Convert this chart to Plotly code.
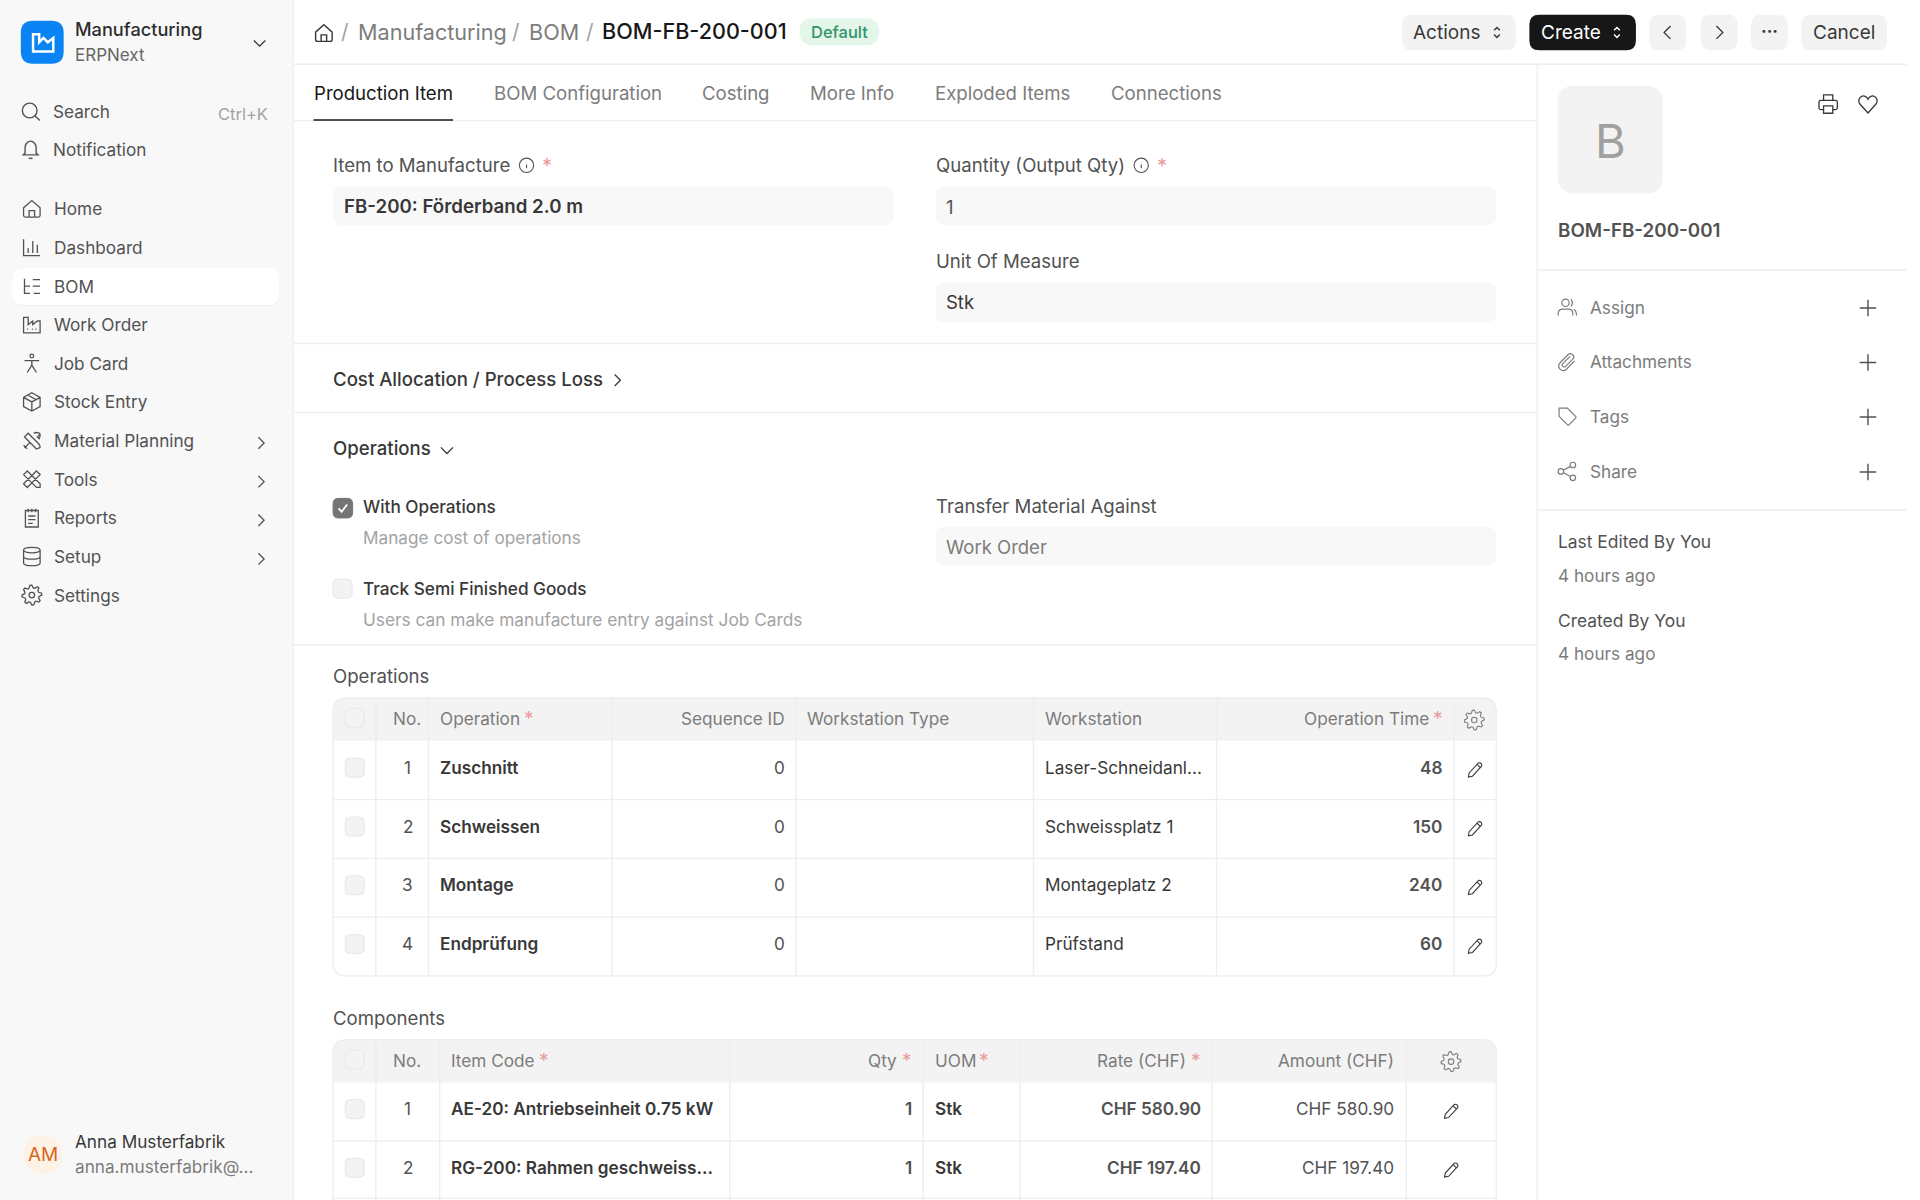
import math
import re
import plotly.graph_objects as go

# sidebar
nav_items = ["Home", "Dashboard", "BOM", "Work Order", "Job Card", "Stock Entry",
             "Material Planning", "Tools", "Reports", "Setup", "Settings"]
nav_arrows = ["Material Planning", "Tools", "Reports", "Setup"]
crumbs = ["Manufacturing", "BOM"]
doc_name = "BOM-FB-200-001"
tabs = ["Production Item", "BOM Configuration", "Costing", "More Info", "Exploded Items", "Connections"]

# operations table
op_no = [1, 2, 3, 4]
op_name = ["Zuschnitt", "Schweissen", "Montage", "Endprüfung"]
op_seq = [0, 0, 0, 0]
op_station = ["Laser-Schneidanl...", "Schweissplatz 1", "Montageplatz 2", "Prüfstand"]
op_time = [48, 150, 240, 60]

# components table
comp_no = [1, 2]
comp_item = ["AE-20: Antriebseinheit 0.75 kW", "RG-200: Rahmen geschweiss..."]
comp_qty = [1, 1]
comp_uom = ["Stk", "Stk"]
comp_rate = ["CHF 580.90", "CHF 197.40"]
comp_amount = ["CHF 580.90", "CHF 197.40"]

side_actions = ["Assign", "Attachments", "Tags", "Share"]

# colours
INK = "#171717"
DARK = "#383838"
MID = "#525252"
GREY = "#7c7c7c"
SOFT = "#a3a3a3"
LINE = "#eeeeee"
FIELD = "#f8f8f8"
HEAD = "#f3f3f3"
RED = "#e99a9a"
FONT = "Inter"
BASE = 17.2

shapes = []
notes = []


def txt(x, y, s, size=BASE, color=DARK, weight=400, anchor="left"):
    # annotations keep a 1px border box, pull the text back over it
    nudge = {"left": -0.5, "right": 0.6, "center": 0}[anchor]
    notes.append(dict(x=x + nudge, y=y, xref="x", yref="y", text=str(s), showarrow=False,
                      xanchor=anchor, yanchor="middle", borderpad=0,
                      font=dict(family=FONT, size=size, color=color, weight=weight)))


def path(d, fill=None, color=None, w=1.2):
    shapes.append(dict(type="path", path=d, xref="x", yref="y", layer="above",
                       fillcolor=fill or "rgba(0,0,0,0)",
                       line=dict(color=color or "rgba(0,0,0,0)", width=w if color else 0)))


def rr(x0, y0, x1, y1, r, fill=None, color=None, w=1.2, top=True, bottom=True):
    rt = r if top else 0
    rb = r if bottom else 0
    d = (f"M{x0 + rt} {y0} L{x1 - rt} {y0} Q{x1} {y0} {x1} {y0 + rt} L{x1} {y1 - rb} "
         f"Q{x1} {y1} {x1 - rb} {y1} L{x0 + rb} {y1} Q{x0} {y1} {x0} {y1 - rb} "
         f"L{x0} {y0 + rt} Q{x0} {y0} {x0 + rt} {y0} Z")
    path(d, fill, color, w)


def hline(x0, x1, y, color=LINE, w=1.4):
    path(f"M{x0} {y} L{x1} {y}", None, color, w)


def vline(x, y0, y1, color=LINE, w=1.4):
    path(f"M{x} {y0} L{x} {y1}", None, color, w)


def circ(cx, cy, r):
    k = 0.5523 * r
    return (f"M{cx + r} {cy} C{cx + r} {cy + k} {cx + k} {cy + r} {cx} {cy + r} "
            f"C{cx - k} {cy + r} {cx - r} {cy + k} {cx - r} {cy} "
            f"C{cx - r} {cy - k} {cx - k} {cy - r} {cx} {cy - r} "
            f"C{cx + k} {cy - r} {cx + r} {cy - k} {cx + r} {cy} Z ")


def gear():
    pts = []
    for i in range(32):
        a = i * math.pi / 16
        r = 10.8 if (i % 4) in (0, 1) else 8
        pts.append(f"{12 + r * math.cos(a - 0.2):.2f} {12 + r * math.sin(a - 0.2):.2f}")
    return "M" + " L".join(pts) + " Z " + circ(12, 12, 3)


# icons are drawn in a 24 unit box
ICONS = {
    "home": "M3 11 L12 3 L21 11 L21 19 Q21 21 19 21 L5 21 Q3 21 3 19 Z M9 21 L9 14 L15 14 L15 21",
    "search": circ(11, 11, 8) + "M17 17 L22 22",
    "bell": "M6 16 L6 10 C6 6 9 3 12 3 C15 3 18 6 18 10 L18 16 L20 18 L4 18 Z M10 21 Q12 23 14 21",
    "dash": "M3 3 L3 21 L21 21 M8 18 L8 13 M13 18 L13 5 M18 18 L18 9",
    "bom": "M4 4 L4 20 L10 20 M4 12 L10 12 M13 5 L21 5 M13 12 L21 12 M14 20 L21 20",
    "factory": "M3 21 L3 4 L8 4 L8 12 L13 8 L13 12 L18 8 L21 8 L21 21 Z M7 17 L8 17 M12 17 L13 17 M16 17 L17 17",
    "person": circ(12, 4, 2) + "M4 9 L20 9 M12 9 L12 14 L7 22 M12 14 L17 22",
    "box": "M12 2 L21 7 L21 17 L12 22 L3 17 L3 7 Z M3 7 L12 12 L21 7 M12 12 L12 22 M7.5 4.5 L16.5 9.5",
    "wrench": "M4 8 L8 4 L20 16 Q22 20 20 20 Q16 22 16 20 Z M14 4 Q19 2 21 5 L18 8 L20 10 Q21 8 21 5 "
              "M10 14 L4 20 M7 21 L3 17",
    "tools": "M3 7 L7 3 L21 17 L21 21 L17 21 Z M17 3 L21 7 L7 21 L3 17 Z",
    "report": "M5 4 L19 4 L19 22 L5 22 Z M8 2 L8 6 M12 2 L12 6 M16 2 L16 6 M8 10 L16 10 M8 14 L16 14 M8 18 L13 18",
    "db": "M3 5 C3 1 21 1 21 5 C21 9 3 9 3 5 Z M3 5 L3 19 C3 23 21 23 21 19 L21 5 M3 12 C3 16 21 16 21 12",
    "gear": gear(),
    "right": "M9 5 L16 12 L9 19",
    "left": "M15 5 L8 12 L15 19",
    "down": "M5 9 L12 16 L19 9",
    "updown": "M8 9 L12 5 L16 9 M8 15 L12 19 L16 15",
    "info": circ(12, 12, 10) + "M12 11 L12 16 M12 8 L12 8.4",
    "pencil": "M4 20 L5 15 L16 3 Q18 2 20 4 Q21 6 20 7 L9 19 Z M15 5 L19 9",
    "plus": "M12 3 L12 21 M3 12 L21 12",
    "printer": "M7 8 L7 2 L17 2 L17 8 M7 18 L4 18 Q2 18 2 16 L2 10 Q2 8 4 8 L20 8 Q22 8 22 10 L22 16 Q22 18 20 18 "
               "L17 18 M7 14 L17 14 L17 22 L7 22 Z",
    "heart": "M12 21 L3 11 C0 6 5 1 9 3 Q11 4 12 6 Q13 4 15 3 C19 1 24 6 21 11 Z",
    "users": circ(10, 7, 4) + "M2 21 L2 19 Q2 14 7 14 L13 14 Q18 14 18 19 L18 21 M16 3 Q19 7 16 11 M19 14 Q22 16 22 21",
    "clip": "M20 11 L11 20 C6 24 0 18 4 13 L13 4 C16 1 21 6 18 9 L10 17 C8 19 5 16 7 14 L15 6",
    "tag": "M3 3 L12 3 L21 12 Q22 13 21 14 L14 21 Q13 22 12 21 L3 12 Z M8 8 L8 8.3",
    "share": circ(18, 5, 3) + circ(5, 12, 3) + circ(18, 19, 3) + "M8 10.5 L15.3 6.5 M8 13.5 L15.3 17.5",
}


def icon(name, cx, cy, size=16, color=MID, w=1.2):
    tokens = re.findall(r"[MLCQZ]|-?[\d.]+", ICONS[name])
    out = []
    n = 0
    k = size / 24
    for t in tokens:
        if t.isalpha():
            out.append(t)
        else:
            base = cx if n % 2 == 0 else cy
            out.append(f"{base + (float(t) - 12) * k:.2f}")
            n += 1
    path(" ".join(out), None, color, w)


def check(x, y, on=False):
    if on:
        rr(x, y, x + 16, y + 16, 4.5, "#757575", "#757575", 1)
        path(f"M{x + 4.5} {y + 8.2} L{x + 7} {y + 11} L{x + 11.5} {y + 5}", None, "#ffffff", 1.8)
    else:
        rr(x, y, x + 15.5, y + 15.5, 4.5, "#f3f3f3", "#e9e9e9", 1.2)


# ---- sidebar
rr(0, 0, 239, 980, 0, FIELD)
vline(239.5, 0, 980)
rr(17, 17, 52, 52, 10, "#0a84f5")
path("M27 28 L27 42 L43.5 42 L43.5 31 L39 34.5 L35.5 31 L32 34.5 L32 28 Z", None, "#ffffff", 2.5)
txt(61, 24, "Manufacturing", 18.2, "#2e2e2e", 500)
txt(61, 45, "ERPNext", 17, "#666666")
icon("down", 212, 35, 16, DARK, 1.4)
icon("search", 25, 91, 18, MID, 1.4)
txt(43, 91, "Search", BASE, MID)
txt(219, 93, "Ctrl+K", BASE - 0.7, SOFT, anchor="right")
icon("bell", 25, 122, 18, MID, 1.4)
txt(43, 122, "Notification", BASE, MID)

nav_y0 = 170.5
nav_step = 31.55
nav_icons = ["home", "dash", "bom", "factory", "person", "box", "wrench", "tools", "report", "db", "gear"]
rr(10, 220, 228, 250, 9, "#eeeeee")
rr(10, 219, 228, 249, 9, "#ffffff")
for i, item in enumerate(nav_items):
    y = nav_y0 + i * nav_step
    icon(nav_icons[i], 26, y, 18, MID, 1.3)
    txt(44, y, item, BASE, MID)
    if item in nav_arrows:
        icon("right", 213, y + 2, 16, MID, 1.3)

shapes.append(dict(type="circle", xref="x", yref="y", x0=19, x1=51, y0=927, y1=959,
                   fillcolor="#fef1e6", line=dict(width=0), layer="above"))
txt(35, 943, "AM", 19, "#d9661f", anchor="center")
txt(61, 932, "Anna Musterfabrik", BASE, DARK)
txt(61, 953, "anna.musterfabrik@...", BASE, GREY)

# ---- top bar
hline(240, 1557, 52.5)
icon("home", 264.5, 27, 18, DARK, 1.4)
txt(282, 26, "/", 21, SOFT, anchor="center")
txt(292, 26, crumbs[0], 21.6, GREY)
txt(421, 26, "/", 21, SOFT, anchor="center")
txt(432, 26, crumbs[1], 21.6, GREY)
txt(482, 26, "/", 21, SOFT, anchor="center")
txt(491, 25.5, doc_name, 21.6, INK, 500)
rr(653, 15, 718, 37, 11, "#e4f5ea")
txt(685.5, 26, "Default", 16.5, "#2f9668", 500, "center")

rr(1145, 12, 1238, 41, 8, HEAD)
txt(1154, 26.5, "Actions", 19, DARK)
icon("updown", 1222.5, 26.5, 14, DARK, 1.5)
rr(1249, 12, 1336, 41, 8, INK)
txt(1258, 26.5, "Create", 19, "#ffffff")
icon("updown", 1320.5, 26.5, 14, "#ffffff", 1.5)
rr(1347, 12, 1377, 41, 8, HEAD)
icon("left", 1362, 26.5, 18, DARK, 1.3)
rr(1389, 12, 1419, 41, 8, HEAD)
icon("right", 1404, 26.5, 18, DARK, 1.3)
rr(1430, 12, 1460, 41, 8, HEAD)
txt(1445, 25.5, "···", 17, DARK, 700, "center")
rr(1471, 12, 1541, 41, 8, HEAD)
txt(1506, 26.5, "Cancel", 19, DARK, anchor="center")

# ---- tabs
tab_x = [256, 403, 573, 661, 763, 907]
for i, t in enumerate(tabs):
    txt(tab_x[i], 76, t, 18.6, INK if i == 0 else GREY)
hline(240, 1255, 98.5)
hline(256, 370, 98, INK, 1.4)
vline(1255.5, 53, 980)


# ---- form
def label(x, y, s, ic=None, star=None):
    txt(x, y, s, 18.6, MID)
    if ic:
        icon("info", ic, y, 14, MID, 1.1)
    if star:
        txt(star, y + 0.5, "*", 20, RED, anchor="center")


label(272, 135, "Item to Manufacture", 430, 447)
rr(272, 152, 730, 184, 8, FIELD)
txt(281, 169, "FB-200: Förderband 2.0 m", 18.7, DARK, 600)
label(764, 135, "Quantity (Output Qty)", 932, 949)
rr(764, 152, 1222, 184, 8, FIELD)
txt(772, 169, "1", 18.5, MID)
label(764, 213.5, "Unit Of Measure")
rr(764, 231, 1222, 263, 8, FIELD)
txt(772, 247, "Stk", 18.5, DARK)
hline(240, 1255, 280.5)
txt(272, 309.5, "Cost Allocation / Process Loss", 18.6, DARK, 500)
icon("right", 504, 310.5, 16, DARK, 1.3)
hline(240, 1255, 337)
txt(272, 366, "Operations", 18.6, DARK, 500)
icon("down", 365, 367.5, 17, DARK, 1.3)
check(272, 407, True)
txt(296, 414, "With Operations", BASE, DARK, 500)
txt(296, 439, "Manage cost of operations", BASE, SOFT)
check(272, 473)
txt(296, 480.5, "Track Semi Finished Goods", BASE, DARK, 500)
txt(296, 506, "Users can make manufacture entry against Job Cards", BASE + 0.1, SOFT)
label(764, 413, "Transfer Material Against")
rr(764, 430, 1222, 462, 8, FIELD)
txt(772, 447, "Work Order", 18.5, GREY)
hline(240, 1255, 526.5)

# ---- operations table
HEAD_STAR = 19
txt(272, 552, "Operations", 18.6, MID)
op_cols = [272, 307, 350, 500, 650, 844, 993.5, 1187.5, 1222]
op_rows = [605, 653, 701, 749, 797]
rr(272, 570, 1222, 605, 11, HEAD, bottom=False)
rr(272, 570, 1222, 797, 11, None, LINE, 1.4)
for c in op_cols[1:-1]:
    vline(c, 570, 797)
for r in op_rows[1:-1]:
    hline(272, 1222, r)
check(282, 578.5)
txt(344, 587, "No.", BASE, GREY, anchor="right")
txt(359, 587, "Operation", BASE, GREY)
txt(432, 587, "*", HEAD_STAR, RED, anchor="center")
txt(641, 587, "Sequence ID", BASE, GREY, anchor="right")
txt(659, 587, "Workstation Type", BASE, GREY)
txt(853, 587, "Workstation", BASE, GREY)
txt(1167, 587, "Operation Time", BASE, GREY, anchor="right")
txt(1174.5, 587, "*", HEAD_STAR, RED, anchor="center")
icon("gear", 1204, 588, 18, GREY, 1.1)
for i in range(len(op_no)):
    y = op_rows[i] + 21.7
    check(282, y - 7.5)
    txt(333, y, op_no[i], BASE, MID, anchor="center")
    txt(359, y, op_name[i], BASE, DARK, 600)
    txt(641, y, op_seq[i], BASE, MID, anchor="right")
    txt(853, y, op_station[i], BASE, DARK)
    txt(1178, y, op_time[i], BASE, MID, 600, "right")
    icon("pencil", 1204.5, y + 2.5, 16, DARK, 1.1)

# ---- components table
txt(272, 831, "Components", 18.6, MID)
comp_cols = [272, 307, 359, 596, 754, 833, 990, 1148.5, 1222]
comp_rows = [884, 932, 980]
rr(272, 849, 1222, 884, 11, HEAD, bottom=False)
path("M272 985 L272 860 Q272 849 283 849 L1211 849 Q1222 849 1222 860 L1222 985", None, LINE, 1.4)
for c in comp_cols[1:-1]:
    vline(c, 849, 980)
hline(272, 1222, 932)
hline(272, 1222, 978.5)
check(282, 857.5)
txt(344, 866, "No.", BASE, GREY, anchor="right")
txt(368, 866, "Item Code", BASE, GREY)
txt(444, 866, "*", HEAD_STAR, RED, anchor="center")
txt(733, 866, "Qty", BASE, GREY, anchor="right")
txt(740.5, 866, "*", HEAD_STAR, RED, anchor="center")
txt(763, 866, "UOM", BASE, GREY)
txt(804, 866, "*", HEAD_STAR, RED, anchor="center")
txt(969, 866, "Rate (CHF)", BASE, GREY, anchor="right")
txt(977, 866, "*", HEAD_STAR, RED, anchor="center")
txt(1139, 866, "Amount (CHF)", BASE, GREY, anchor="right")
icon("gear", 1185, 867, 18, GREY, 1.1)
for i in range(len(comp_no)):
    y = comp_rows[i] + 21.5
    check(282, y - 7.5)
    txt(333, y, comp_no[i], BASE, MID, anchor="center")
    txt(368, y, comp_item[i], BASE, DARK, 600)
    txt(745, y, comp_qty[i], BASE, MID, 600, "right")
    txt(763, y, comp_uom[i], BASE, DARK, 600)
    txt(981, y, comp_rate[i], BASE, MID, 600, "right")
    txt(1139, y, comp_amount[i], BASE, MID, anchor="right")
    icon("pencil", 1185, y + 2.5, 16, DARK, 1.1)

# ---- side panel
rr(1272, 70, 1358, 158, 14, HEAD)
txt(1315.5, 115, "B", 47, "#a0a0a0", anchor="center")
icon("printer", 1493, 85, 18, DARK, 1.3)
icon("heart", 1525.5, 85.5, 18, DARK, 1.3)
txt(1272, 188, doc_name, 18.8, MID, 600)
hline(1256, 1557, 220.5)
side_y = [251, 295.5, 340, 385]
side_icons = ["users", "clip", "tag", "share"]
for i, s in enumerate(side_actions):
    icon(side_icons[i], 1280, side_y[i], 18, GREY, 1.2)
    txt(1298, side_y[i], s, BASE, GREY)
    icon("plus", 1525.5, side_y[i] + 0.5, 18, MID, 1.4)
hline(1256, 1557, 416.5)
txt(1272, 442, "Last Edited By You", BASE + 0.2, MID)
txt(1272, 470, "4 hours ago", BASE, GREY)
txt(1272, 506.5, "Created By You", BASE + 0.2, MID)
txt(1272, 534, "4 hours ago", BASE, GREY)

fig = go.Figure()
fig.update_layout(
    width=1920, height=1200, margin=dict(l=0, r=0, t=0, b=0),
    paper_bgcolor="#ffffff", plot_bgcolor="#ffffff", showlegend=False,
    xaxis=dict(range=[0, 1568], visible=False, fixedrange=True),
    yaxis=dict(range=[980, 0], visible=False, fixedrange=True),
    shapes=shapes, annotations=notes,
)
fig.write_html("out.html", config={"displayModeBar": False},
               post_script="document.body.style.margin='0';document.body.style.overflow='hidden';")
